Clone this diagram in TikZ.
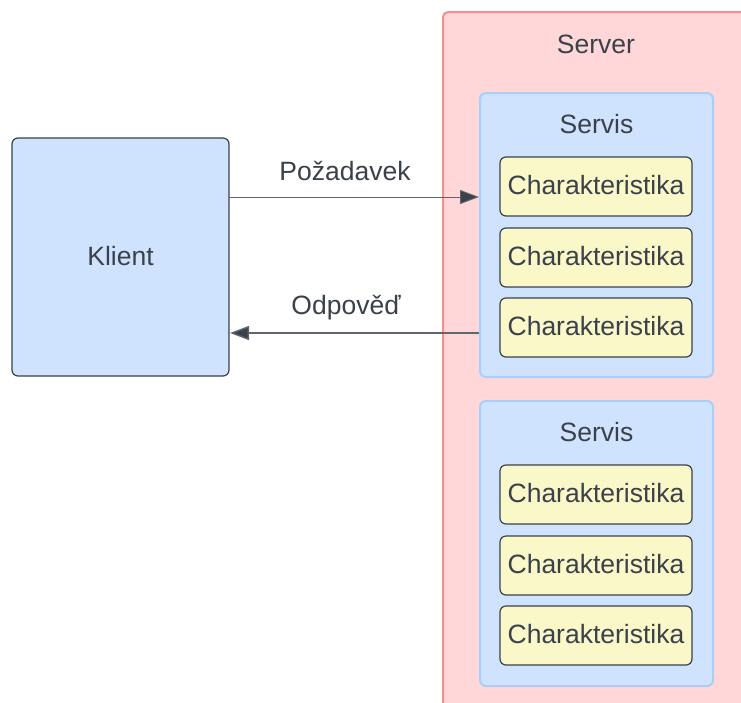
\documentclass[tikz,border=0pt]{standalone}
\usepackage{fontspec}
\setmainfont{Liberation Sans}
\usetikzlibrary{arrows.meta}
\definecolor{ink}{HTML}{3A414A}
\definecolor{srvfill}{HTML}{FFD7D8}
\definecolor{srvline}{HTML}{F58E8E}
\definecolor{bluefill}{HTML}{CFE3FE}
\definecolor{blueline}{HTML}{A9CEF8}
\definecolor{yelfill}{HTML}{FAF8C8}
\definecolor{wire}{HTML}{5F6670}
\tikzset{
  txt/.style={text=ink, font=\fontsize{26.5}{30}\selectfont},
  serverbox/.style={draw=srvline, fill=srvfill, line width=2pt, rounded corners=5pt},
  servisbox/.style={draw=blueline, fill=bluefill, line width=2pt, rounded corners=6pt},
  clientbox/.style={draw=ink, fill=bluefill, line width=1.2pt, rounded corners=6pt},
  charbox/.style={draw=ink, fill=yelfill, line width=1.2pt, rounded corners=6pt},
  msg/.style={draw=wire, -{Triangle[length=19pt,width=14pt,fill=ink]}},
}
\begin{document}
\begin{tikzpicture}[x=1pt,y=-1pt]
  \useasboundingbox (0,0) rectangle (741,702);
  \fill[white] (0,0) rectangle (741,702);
  % server frame runs off the right and bottom edges
  \begin{scope}
    \clip (0,0) rectangle (741,702);
    \draw[serverbox] (443,12) rectangle (760,720);
  \end{scope}
  \node[txt] (server) at (596,44) {Server};

  % client
  \draw[clientbox] (12,138) rectangle (229,376);
  \node[txt] (klient) at (120.5,256) {Klient};
  \coordinate (kR1) at (229,197);
  \coordinate (kR2) at (230,333);

  % first service
  \draw[servisbox] (480,93) rectangle (713,377);
  \node[txt] (servis1) at (596.5,124) {Servis};
  \coordinate (s1L1) at (479,197);
  \coordinate (s1L2) at (479,333);
  \foreach \n/\yt/\yb in {a/157/216, b/228/287, c/298/357}{
    \draw[charbox] (500,\yt) rectangle (692,\yb);
    \node[txt] (ch1\n) at (596,{(\yt+\yb)/2-1}) {Charakteristika};
  }

  % second service
  \draw[servisbox] (480,401) rectangle (713,686);
  \node[txt] (servis2) at (596.5,432) {Servis};
  \foreach \n/\yt/\yb in {a/465/524, b/536/595, c/606/665}{
    \draw[charbox] (500,\yt) rectangle (692,\yb);
    \node[txt] (ch2\n) at (596,{(\yt+\yb)/2-1}) {Charakteristika};
  }

  % messages
  \draw[msg, line width=0.9pt] (kR1) -- (s1L1);
  \node[txt] (req) at (345,171) {Požadavek};
  \draw[msg, line width=1.4pt] (s1L2) -- (kR2);
  \node[txt] (resp) at (346,308) {Odpověď};
\end{tikzpicture}
\end{document}
